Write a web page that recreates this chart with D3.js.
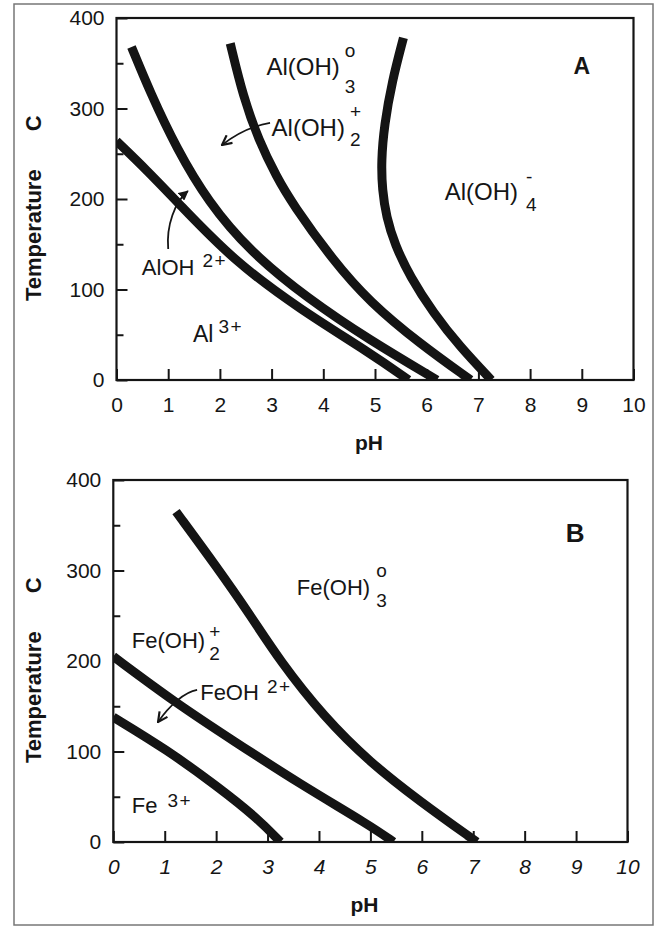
<!DOCTYPE html>
<html>
<head>
<meta charset="utf-8">
<script src="https://cdn.jsdelivr.net/npm/d3@7"></script>
<style>
    body { margin: 0; background: #fff; }
    svg { display: block; font-family: "Liberation Sans", Arial, Helvetica, sans-serif; }
    .tick text { fill: #151515; }
    .tick line { stroke: #151515; stroke-width: 2px; }
</style>
</head>
<body>
<script>
// axis ticks
var phTicks = d3.range(0, 11);
var tempTicks = [0, 100, 200, 300, 400];
var tempMinorTicks = [50, 150, 250, 350];

// panel A - aluminium species boundaries, [pH, T]
var alBoundary1 = [[0, 264], [0.6, 231], [1.17, 197], [2.26, 132], [3.55, 78], [4.9, 30], [5.65, 0]];
var alBoundary2 = [[0.29, 368], [0.65, 318], [1.16, 256], [1.77, 197], [2.58, 142], [3.7, 90], [4.9, 44], [6.2, 0]];
var alBoundary3 = [[2.2, 372], [2.45, 313], [2.75, 265], [3.1, 224], [3.4, 195], [4.19, 132], [4.9, 86], [5.87, 40], [6.85, 0]];
var alBoundary4 = [[5.55, 378], [5.33, 330], [5.18, 282], [5.12, 242], [5.14, 210], [5.22, 180], [5.38, 150], [5.68, 114], [6.13, 74], [6.64, 37], [7.25, 0]];

// panel B - iron species boundaries, [pH, T]
var feBoundary1 = [[0, 138], [1.04, 102], [2.01, 62], [2.79, 27], [3.25, 0]];
var feBoundary2 = [[0, 205], [1.23, 153], [2.33, 112], [3.63, 64], [5.0, 18], [5.45, 0]];
var feBoundary3 = [[1.22, 365], [2.01, 304], [2.66, 251], [3.24, 200], [4.1, 138], [4.99, 88], [5.96, 45], [7.07, 0]];

var W = 663, H = 929;
var svg = d3.select("body").append("svg").attr("width", W).attr("height", H);

var defs = svg.append("defs");
defs.append("marker").attr("id", "openHead")
    .attr("viewBox", "0 0 10 10").attr("refX", 9).attr("refY", 5)
    .attr("markerWidth", 12).attr("markerHeight", 12)
    .attr("markerUnits", "userSpaceOnUse").attr("orient", "auto")
    .append("path").attr("d", "M1,1 L9,5 L1,9")
    .attr("fill", "none").attr("stroke", "#151515").attr("stroke-width", 1.8);
defs.append("marker").attr("id", "fillHead")
    .attr("viewBox", "0 0 10 10").attr("refX", 9).attr("refY", 5)
    .attr("markerWidth", 10).attr("markerHeight", 10)
    .attr("markerUnits", "userSpaceOnUse").attr("orient", "auto")
    .append("path").attr("d", "M0,0 L10,5 L0,10 z").attr("fill", "#151515");

// outer frame round the figure
svg.append("rect").attr("x", 14).attr("y", 4).attr("width", 639).attr("height", 921)
    .attr("fill", "none").attr("stroke", "#777").attr("stroke-width", 1.5);

function drawPanel(cfg) {
    var x = d3.scaleLinear().domain([0, 10]).range([cfg.left, cfg.right]);
    var y = d3.scaleLinear().domain([0, 400]).range([cfg.bottom, cfg.top]);
    var g = svg.append("g");

    g.append("clipPath").attr("id", cfg.id + "clip")
        .append("rect").attr("x", cfg.left).attr("y", cfg.top)
        .attr("width", cfg.right - cfg.left).attr("height", cfg.bottom - cfg.top);

    var line = d3.line()
        .x(function (d) { return x(d[0]); })
        .y(function (d) { return y(d[1]); })
        .curve(d3.curveBasis);

    g.append("g").attr("clip-path", "url(#" + cfg.id + "clip)")
        .selectAll("path").data(cfg.curves).enter()
        .append("path")
        .attr("d", line)
        .attr("fill", "none")
        .attr("stroke", "#141414")
        .attr("stroke-width", 9);

    // axes, ticks point into the plot
    var xAxis = g.append("g").attr("transform", "translate(0," + cfg.bottom + ")")
        .call(d3.axisBottom(x).tickValues(phTicks).tickSize(-11).tickPadding(17).tickFormat(d3.format("d")));
    xAxis.selectAll("text").style("font-size", "21px")
        .style("font-style", cfg.italicX ? "italic" : "normal");

    var yAxis = g.append("g").attr("transform", "translate(" + cfg.left + ",0)")
        .call(d3.axisLeft(y).tickValues(tempTicks).tickSize(-11).tickPadding(12).tickFormat(d3.format("d")));
    yAxis.selectAll("text").style("font-size", "21px");

    g.append("g").attr("transform", "translate(" + cfg.left + ",0)")
        .call(d3.axisLeft(y).tickValues(tempMinorTicks).tickSize(-7).tickFormat(""));

    g.selectAll(".domain").remove();

    g.append("rect").attr("x", cfg.left).attr("y", cfg.top)
        .attr("width", cfg.right - cfg.left).attr("height", cfg.bottom - cfg.top)
        .attr("fill", "none").attr("stroke", "#141414").attr("stroke-width", 2.2);

    // axis titles
    g.append("text")
        .attr("x", (cfg.left + cfg.right) / 2 - 6)
        .attr("y", cfg.bottom + 70)
        .attr("text-anchor", "middle")
        .style("font-size", "21px").style("font-weight", "bold").attr("fill", "#151515")
        .text("pH");

    var yt = g.append("text")
        .attr("transform", "translate(41," + (cfg.bottom - 79) + ") rotate(-90)")
        .style("font-size", "22px").style("font-weight", "bold").attr("fill", "#151515");
    yt.append("tspan").text("Temperature");
    yt.append("tspan").attr("dx", 38).text("C");

    // panel letter
    g.append("text")
        .attr("x", x(cfg.letter.ph)).attr("y", y(cfg.letter.t))
        .attr("text-anchor", "middle")
        .style("font-size", cfg.letter.size + "px").style("font-weight", "bold").attr("fill", "#151515")
        .text(cfg.letter.text);

    // species labels with super/subscripts
    cfg.labels.forEach(function (l) {
        var tx = x(l.ph), ty = y(l.t);
        var main = g.append("text").attr("x", tx).attr("y", ty)
            .style("font-size", l.size + "px").attr("fill", "#151515").text(l.text);
        var end = tx + main.node().getComputedTextLength() + l.gap;
        if (l.sup) {
            g.append("text").attr("x", end).attr("y", ty - l.rise)
                .style("font-size", "19px").style("letter-spacing", "1.5px")
                .attr("fill", "#151515").text(l.sup);
        }
        if (l.sub) {
            g.append("text").attr("x", end).attr("y", ty + l.drop)
                .style("font-size", "19px").attr("fill", "#151515").text(l.sub);
        }
    });

    // pointer arrows
    cfg.arrows.forEach(function (a) {
        var p = a.pts.map(function (d) { return [x(d[0]), y(d[1])]; });
        var d = "M" + p[0] + (p.length === 4 ? " C" + p[1] + " " + p[2] + " " + p[3] : " Q" + p[1] + " " + p[2]);
        g.append("path").attr("d", d).attr("fill", "none")
            .attr("stroke", "#151515").attr("stroke-width", 1.8)
            .attr("marker-end", "url(#" + a.head + ")");
    });
}

drawPanel({
    id: "A", left: 116.5, right: 633.5, top: 18, bottom: 380, italicX: false,
    curves: [alBoundary1, alBoundary2, alBoundary3, alBoundary4],
    letter: {text: "A", ph: 9.0, t: 338, size: 23},
    labels: [
        {text: "Al(OH)", ph: 2.9, t: 337, size: 24, gap: 5, sup: "o", rise: 18, sub: "3", drop: 18},
        {text: "Al(OH)", ph: 3.0, t: 270, size: 24, gap: 5, sup: "+", rise: 18, sub: "2", drop: 10},
        {text: "Al(OH)", ph: 6.35, t: 199, size: 24, gap: 8, sup: "-", rise: 17, sub: "4", drop: 11},
        {text: "AlOH", ph: 0.49, t: 116, size: 22, gap: 8, sup: "2+", rise: 8},
        {text: "Al", ph: 1.48, t: 42, size: 23, gap: 5, sup: "3+", rise: 9}
    ],
    arrows: [
        {pts: [[2.97, 284], [2.49, 279.6], [2.04, 259.7]], head: "openHead"},
        {pts: [[1.0, 144.8], [0.96, 171], [1.13, 196.7], [1.38, 208.8]], head: "fillHead"}
    ]
});

drawPanel({
    id: "B", left: 113.3, right: 627.5, top: 480, bottom: 842, italicX: true,
    curves: [feBoundary1, feBoundary2, feBoundary3],
    letter: {text: "B", ph: 8.98, t: 331, size: 26},
    labels: [
        {text: "Fe(OH)", ph: 3.57, t: 273, size: 22, gap: 6, sup: "o", rise: 18, sub: "3", drop: 12},
        {text: "Fe(OH)", ph: 0.36, t: 214, size: 22, gap: 4, sup: "+", rise: 10, sub: "2", drop: 12},
        {text: "FeOH", ph: 1.69, t: 157, size: 22, gap: 8, sup: "2+", rise: 7},
        {text: "Fe", ph: 0.36, t: 32, size: 22, gap: 10, sup: "3+", rise: 6}
    ],
    arrows: [
        {pts: [[1.63, 168], [1.39, 165.7], [1.10, 151.4], [0.87, 132.6]], head: "openHead"}
    ]
});
</script>
</body>
</html>
